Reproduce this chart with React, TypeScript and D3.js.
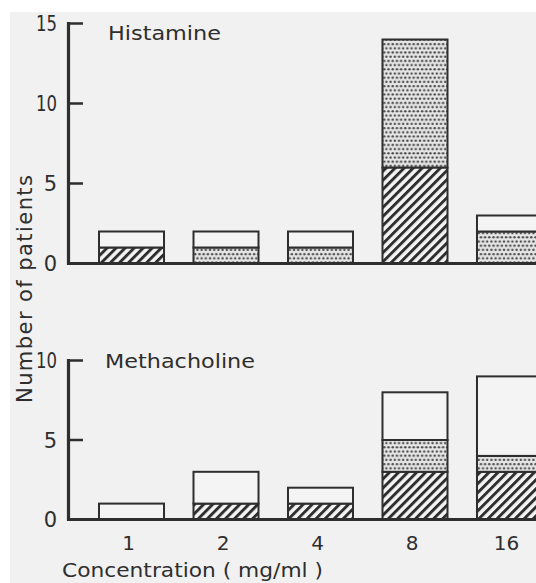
import React, { useEffect, useRef } from 'react';
import * as d3 from 'd3';

const concentrations = ['1', '2', '4', '8', '16'];

// histamine panel, number of patients per segment (bottom to top)
const histHatched = [1, 0, 0, 6, 0];
const histDotted = [0, 1, 1, 8, 2];
const histOpen = [1, 1, 1, 0, 1];

// methacholine panel
const methHatched = [0, 1, 1, 3, 3];
const methDotted = [0, 0, 0, 2, 1];
const methOpen = [1, 2, 1, 3, 5];

const histTicks = [0, 5, 10, 15];
const methTicks = [0, 5, 10];

const INK = '#2e2e2e';
const FONT = '"DejaVu Sans", sans-serif';

interface Panel {
    title: string;
    titleX: number;
    titleY: number;
    titleWidth: number;
    ticks: number[];
    max: number;
    range: [number, number];
    hatched: number[];
    dotted: number[];
    open: number[];
}

const App: React.FC = () => {
    const svgRef = useRef<SVGSVGElement | null>(null);

    useEffect(() => {
        if (!svgRef.current) return;
        const width = 536;
        const height = 583;
        const svg = d3.select(svgRef.current);
        svg.selectAll('*').remove();
        svg.attr('width', width).attr('height', height);

        // paper background of the scan
        svg.append('rect').attr('width', width).attr('height', height).attr('fill', '#ffffff');
        svg.append('rect').attr('x', 10).attr('y', 12).attr('width', width - 10).attr('height', height - 12).attr('fill', '#f1f1f1');

        const defs = svg.append('defs');
        const hatch = defs.append('pattern')
            .attr('id', 'hatch')
            .attr('patternUnits', 'userSpaceOnUse')
            .attr('width', 6.4)
            .attr('height', 6.4)
            .attr('patternTransform', 'rotate(45)');
        hatch.append('rect').attr('width', 6.4).attr('height', 6.4).attr('fill', '#f4f4f4');
        hatch.append('rect').attr('x', 0).attr('width', 2.9).attr('height', 6.4).attr('fill', INK);

        const dots = defs.append('pattern')
            .attr('id', 'dots')
            .attr('patternUnits', 'userSpaceOnUse')
            .attr('width', 8.4)
            .attr('height', 8.4);
        dots.append('rect').attr('width', 8.4).attr('height', 8.4).attr('fill', '#e6e6e6');
        [[2.1, 2.1], [6.3, 2.1], [0, 6.3], [4.2, 6.3], [8.4, 6.3]].forEach(([cx, cy]) => {
            dots.append('circle').attr('cx', cx).attr('cy', cy).attr('r', 1.25).attr('fill', '#4a4a4a');
        });

        const x = d3.scaleBand<string>()
            .domain(concentrations)
            .range([99, 542])
            .paddingInner(0.312)
            .paddingOuter(0);

        const axisX = 68.5;

        const panels: Panel[] = [
            { title: 'Histamine', titleX: 108, titleY: 40, titleWidth: 113, ticks: histTicks, max: 15, range: [263.5, 23.5], hatched: histHatched, dotted: histDotted, open: histOpen },
            { title: 'Methacholine', titleX: 105, titleY: 368, titleWidth: 150, ticks: methTicks, max: 10, range: [519.5, 360.5], hatched: methHatched, dotted: methDotted, open: methOpen },
        ];

        panels.forEach((p) => {
            const y = d3.scaleLinear().domain([0, p.max]).range(p.range);
            const g = svg.append('g');

            // stacked segments
            const fills = ['url(#hatch)', 'url(#dots)', '#f4f4f4'];
            const series = [p.hatched, p.dotted, p.open];
            concentrations.forEach((c, i) => {
                let base = 0;
                series.forEach((s, k) => {
                    const v = s[i];
                    if (v <= 0) return;
                    g.append('rect')
                        .attr('x', x(c)!)
                        .attr('y', y(base + v))
                        .attr('width', x.bandwidth())
                        .attr('height', y(base) - y(base + v))
                        .attr('fill', fills[k])
                        .attr('stroke', INK)
                        .attr('stroke-width', 2);
                    base += v;
                });
            });

            // axes
            g.append('line')
                .attr('x1', axisX).attr('x2', axisX)
                .attr('y1', y(p.max) - 1.5).attr('y2', y(0) + 1.5)
                .attr('stroke', INK).attr('stroke-width', 3.2);
            g.append('line')
                .attr('x1', axisX).attr('x2', width)
                .attr('y1', y(0)).attr('y2', y(0))
                .attr('stroke', INK).attr('stroke-width', 3.2);

            p.ticks.forEach((t) => {
                if (t > 0) {
                    g.append('line')
                        .attr('x1', axisX).attr('x2', 83)
                        .attr('y1', y(t)).attr('y2', y(t))
                        .attr('stroke', INK).attr('stroke-width', 2.5);
                }
                const label = g.append('text')
                    .attr('x', 57)
                    .attr('y', y(t))
                    .attr('dy', '0.36em')
                    .attr('text-anchor', 'end')
                    .attr('font-family', FONT)
                    .attr('font-size', 21)
                    .attr('fill', INK)
                    .text(String(t));
                if (t >= 10) label.attr('textLength', 21).attr('lengthAdjust', 'spacingAndGlyphs');
            });

            g.append('text')
                .attr('x', p.titleX)
                .attr('y', p.titleY)
                .attr('font-family', FONT)
                .attr('font-size', 20)
                .attr('fill', INK)
                .attr('textLength', p.titleWidth)
                .attr('lengthAdjust', 'spacingAndGlyphs')
                .text(p.title);
        });

        // concentration labels under the lower panel
        svg.append('g')
            .selectAll('text')
            .data(concentrations)
            .enter()
            .append('text')
            .attr('x', (d) => x(d)! + x.bandwidth() / 2 - 3)
            .attr('y', 550)
            .attr('text-anchor', 'middle')
            .attr('font-family', FONT)
            .attr('font-size', 20)
            .attr('fill', INK)
            .text((d) => d);

        svg.append('text')
            .attr('x', 62)
            .attr('y', 577)
            .attr('font-family', FONT)
            .attr('font-size', 20)
            .attr('fill', INK)
            .attr('textLength', 261)
            .attr('lengthAdjust', 'spacingAndGlyphs')
            .text('Concentration ( mg/ml )');

        svg.append('text')
            .attr('transform', 'translate(32,403) rotate(-90)')
            .attr('font-family', FONT)
            .attr('font-size', 21)
            .attr('fill', INK)
            .attr('textLength', 228)
            .attr('lengthAdjust', 'spacing')
            .text('Number of patients');
    }, []);

    return <svg ref={svgRef} style={{ position: 'absolute', left: 0, top: 0, display: 'block' }}></svg>;
};

export default App;
